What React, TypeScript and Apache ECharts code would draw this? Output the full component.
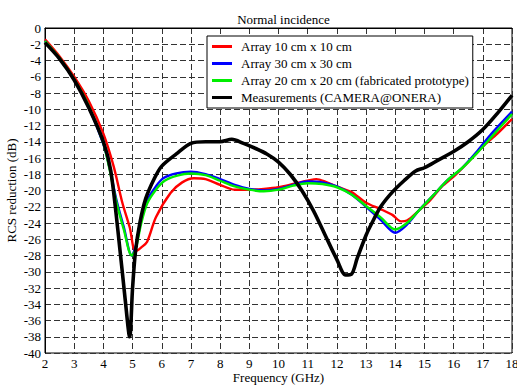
import React, { useEffect, useRef } from "react";
import * as echarts from "echarts";

const seriesNames = [
  "Array 10 cm x 10 cm",
  "Array 30 cm x 30 cm",
  "Array 20 cm x 20 cm (fabricated prototype)",
  "Measurements (CAMERA@ONERA)",
];

const redX = [2, 2.5, 3, 3.5, 4, 4.35, 4.65, 4.9, 5.1, 5.3, 5.5, 5.8, 6.3, 6.7, 7.1, 7.5, 8.0, 8.5, 9.0, 9.5, 10.0, 10.5, 11.0, 11.3, 11.6, 12.0, 12.5, 13.0, 13.5, 13.9, 14.2, 14.4, 14.8, 15.2, 15.6, 16.0, 16.5, 17.0, 17.5, 18];
const redY = [-1.4, -3.5, -6.0, -9.0, -13.0, -17, -21.5, -24.5, -27.5, -27, -26.3, -23.3, -20.3, -19, -18.5, -18.6, -19.3, -19.9, -19.9, -19.8, -19.6, -19.2, -18.8, -18.6, -18.9, -19.5, -20.2, -21.5, -22.3, -23, -23.8, -23.7, -22.5, -21.2, -19.5, -18.3, -16.5, -14.6, -13, -11.2];

const blueX = [2, 2.5, 3, 3.5, 4, 4.2, 4.45, 4.7, 4.97, 5.1, 5.3, 5.5, 5.8, 6.05, 6.5, 7, 7.5, 8, 8.5, 9, 9.5, 10, 10.5, 11, 11.5, 12, 12.5, 13, 13.5, 14, 14.4, 14.8, 15.3, 15.8, 16.3, 16.8, 17.3, 18];
const blueY = [-1.6, -3.8, -6.4, -9.8, -14.3, -17, -21.2, -24.5, -28, -27, -23.5, -21.2, -19.5, -18.5, -17.9, -17.7, -18, -18.6, -19.3, -19.8, -20, -19.8, -19.3, -18.9, -19, -19.5, -20.5, -22, -23.6, -25.2, -24.2, -22.5, -20.6, -18.7, -17.2, -15.2, -13, -10.3];

const greenX = [2, 2.5, 3, 3.5, 4, 4.2, 4.45, 4.7, 4.97, 5.1, 5.3, 5.5, 5.8, 6.1, 6.5, 7, 7.5, 8, 8.5, 9, 9.5, 10, 10.5, 11, 11.5, 12, 12.5, 13, 13.5, 14, 14.4, 14.8, 15.3, 15.8, 16.3, 16.8, 17.3, 18];
const greenY = [-1.6, -3.7, -6.3, -9.6, -14.2, -17.2, -21.5, -24.8, -28, -27.3, -24, -21.6, -19.9, -18.8, -18.2, -17.9, -18.1, -18.8, -19.5, -19.9, -20.1, -19.9, -19.4, -19.1, -19.2, -19.6, -20.5, -21.9, -23.3, -24.8, -24, -22.5, -20.6, -18.7, -17.2, -15.4, -13.4, -10.6];

const blackX = [2, 2.5, 3, 3.5, 4, 4.25, 4.5, 4.75, 4.9, 5.0, 5.1, 5.25, 5.45, 5.75, 6.0, 6.5, 7.0, 7.5, 8.0, 8.4, 8.8, 9.2, 9.6, 10.0, 10.4, 10.8, 11.2, 11.6, 12.0, 12.3, 12.5, 12.7, 13.0, 13.2, 13.5, 13.9, 14.3, 14.7, 15.0, 15.5, 16.0, 16.5, 17.0, 17.5, 18.0];
const blackY = [-1.8, -3.8, -6.4, -9.8, -14, -17.5, -25, -33.5, -38, -32, -27.5, -24, -21, -18.5, -17, -15.5, -14.2, -14.0, -14.0, -13.7, -14.2, -14.8, -15.5, -16.5, -18, -20, -22.5, -25.5, -28.5, -30.4, -30.3, -28.3, -25.5, -24, -22, -20.2, -18.8, -17.6, -17.2, -16.2, -15.2, -14.0, -12.5, -10.5, -8.3];

const xTicks = { min: 2, max: 18, step: 1 };
const yTicks = { min: -40, max: 0, step: 2 };

const pair = (xs: number[], ys: number[]) => xs.map((x, i) => [x, ys[i]]);

const FONT = "'Liberation Serif', 'DejaVu Serif', serif";

export default function App() {
  const ref = useRef<HTMLDivElement>(null);
  useEffect(() => {
    if (!ref.current) return;
    const chart = echarts.init(ref.current, undefined, { renderer: "svg" });
    const colors = ["#ff0000", "#0000ff", "#00ee00", "#000000"];
    const widths = [2.4, 2.4, 2.4, 3.6];
    const datasets = [pair(redX, redY), pair(blueX, blueY), pair(greenX, greenY), pair(blackX, blackY)];
    chart.setOption({
      animation: false,
      backgroundColor: "#ffffff",
      textStyle: { fontFamily: FONT },
      title: {
        text: "Normal incidence",
        left: 278.5,
        textAlign: "center",
        top: 8,
        textStyle: { fontFamily: FONT, fontSize: 13, fontWeight: "normal", color: "#000" },
      },
      legend: {
        orient: "vertical",
        left: 207,
        top: 36,
        padding: [4, 4, 4, 5],
        itemGap: 4,
        itemWidth: 20,
        itemHeight: 3,
        icon: "rect",
        backgroundColor: "#ffffff",
        borderColor: "#000",
        borderWidth: 1,
        borderRadius: 0,
        textStyle: { fontFamily: FONT, fontSize: 13, color: "#000", lineHeight: 13, padding: [0, 0, 0, 4] },
        data: seriesNames.map((n, i) => ({ name: n, itemStyle: { color: colors[i] } })),
        z: 10,
      },
      grid: {
        left: 45,
        top: 28,
        right: 5,
        bottom: 32,
        show: true,
        borderColor: "#000",
        borderWidth: 1,
        backgroundColor: "transparent",
        containLabel: false,
        outerBoundsMode: "none",
      },
      xAxis: {
        type: "value",
        min: xTicks.min,
        max: xTicks.max,
        interval: xTicks.step,
        name: "Frequency (GHz)",
        nameLocation: "middle",
        nameGap: 18,
        nameMoveOverlap: false,
        nameTextStyle: { fontFamily: FONT, fontSize: 13, color: "#000" },
        axisLine: { show: true, lineStyle: { color: "#000" } },
        axisTick: { show: false },
        axisLabel: { fontFamily: FONT, fontSize: 13, color: "#000", margin: 4 },
        splitLine: { show: true, lineStyle: { color: "#333", type: [6, 3], width: 1 } },
      },
      yAxis: {
        type: "value",
        min: yTicks.min,
        max: yTicks.max,
        interval: yTicks.step,
        name: "RCS reduction (dB)",
        nameLocation: "middle",
        nameGap: 27,
        nameMoveOverlap: false,
        nameTextStyle: { fontFamily: FONT, fontSize: 13, color: "#000" },
        axisLine: { show: true, lineStyle: { color: "#000" } },
        axisTick: { show: false },
        axisLabel: { fontFamily: FONT, fontSize: 13, color: "#000", margin: 4 },
        splitLine: { show: true, lineStyle: { color: "#333", type: [6, 3], width: 1 } },
      },
      series: seriesNames.map((n, i) => ({
        name: n,
        type: "line",
        data: datasets[i],
        showSymbol: false,
        symbol: "none",
        smooth: 0.3,
        lineStyle: { color: colors[i], width: widths[i] },
        itemStyle: { color: colors[i] },
        z: i === 3 ? 4 : 3,
      })),
    });
    return () => chart.dispose();
  }, []);
  return <div ref={ref} style={{ position: "fixed", left: 0, top: 0, width: 517, height: 385 }} />;
}
